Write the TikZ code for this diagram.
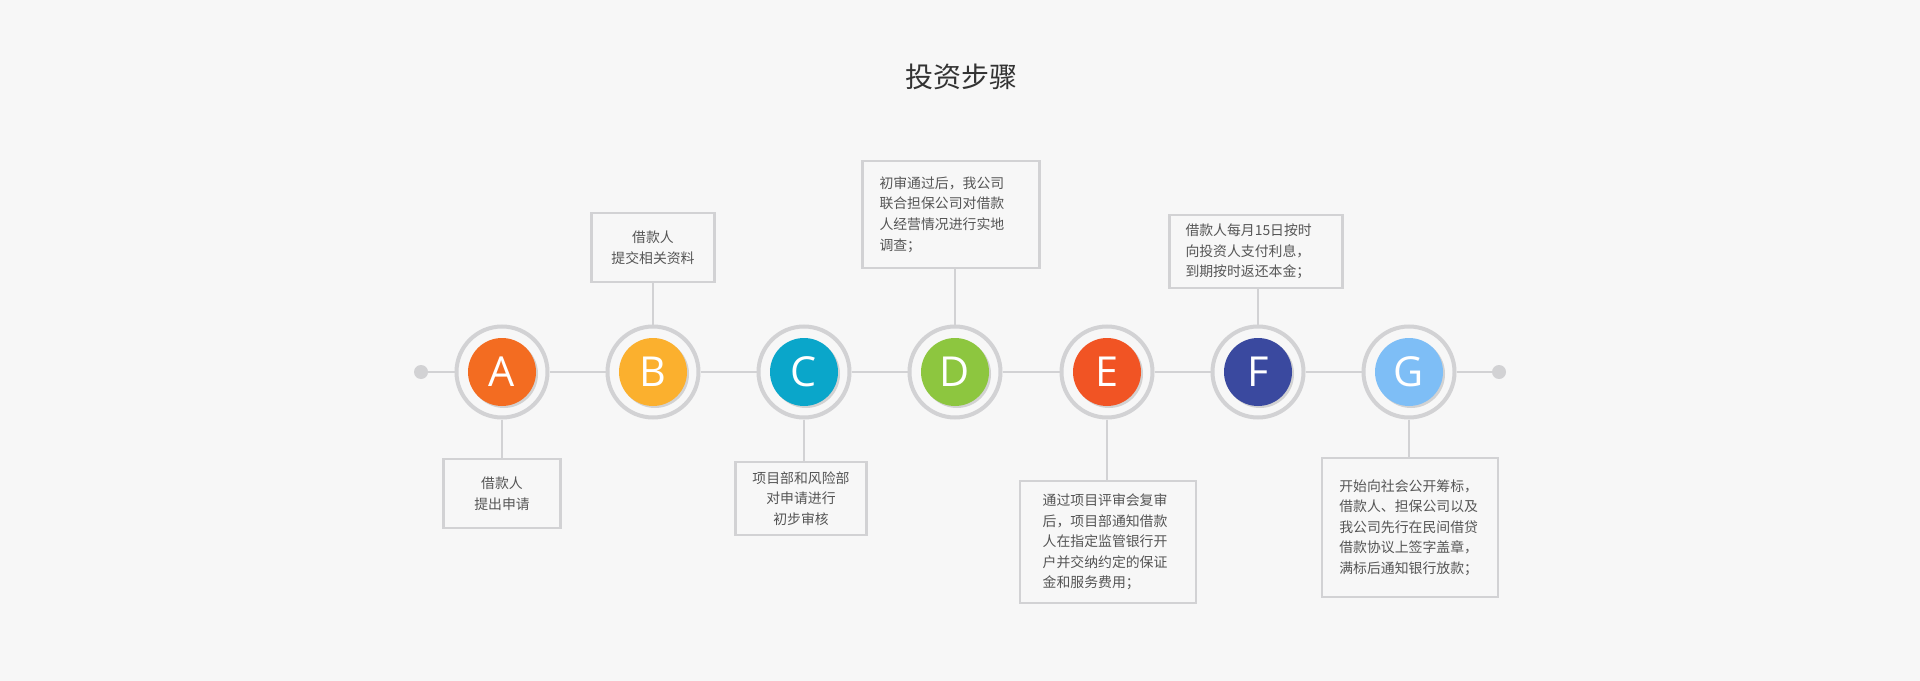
\documentclass[tikz,border=0pt]{standalone}
\usepackage{fontspec}
\setmainfont{Noto Sans CJK SC}
\newfontfamily\letterfont{Open Sans}
\usepackage{tikz}
\usetikzlibrary{positioning,shadows}
\usepackage{xcolor}

\definecolor{bg}{HTML}{F7F7F7}
\definecolor{linegray}{HTML}{D2D2D4}
\definecolor{textgray}{HTML}{555555}
\definecolor{titlegray}{HTML}{333333}
\definecolor{colA}{HTML}{F36C21}
\definecolor{colB}{HTML}{FBB02E}
\definecolor{colC}{HTML}{0AA6CA}
\definecolor{colD}{HTML}{8DC63F}
\definecolor{colE}{HTML}{F15424}
\definecolor{colF}{HTML}{3A499F}
\definecolor{colG}{HTML}{7EBEF6}

\tikzset{
  conn/.style={draw=linegray,line width=2.2pt},
  ring/.style={circle,draw=linegray,line width=3pt,fill=bg,minimum size=68.25pt,inner sep=0pt},
  ball/.style={circle,fill=#1,minimum size=51pt,inner sep=0pt,text=white,
    font=\letterfont\fontsize{31}{31}\selectfont,
    drop shadow={shadow xshift=1.5pt,shadow yshift=-1.5pt,opacity=.15,fill=black}},
  enddot/.style={circle,fill=linegray,minimum size=10.5pt,inner sep=0pt},
  infobox/.style={draw=linegray,line width=2pt,fill=bg,text=textgray,
    font=\fontsize{10.4}{15.4}\selectfont},
  midbox/.style={infobox,align=center,inner sep=0pt},
  leftbox/.style={infobox,align=left,inner ysep=0pt},
}

\begin{document}
\begin{tikzpicture}[x=0.75pt,y=-0.75pt]
\useasboundingbox[fill=bg] (0,0) rectangle (1920,681);

\node[text=titlegray,font=\fontsize{21}{21}\selectfont] (title) at (961,77) {投资步骤};

% the time line
\node[enddot] (dL) at (421,372) {};
\node[enddot] (dR) at (1499,372) {};
\node[ring] (rA) at (502,372) {};
\node[ring] (rB) at (653,372) {};
\node[ring] (rC) at (804,372) {};
\node[ring] (rD) at (955,372) {};
\node[ring] (rE) at (1107,372) {};
\node[ring] (rF) at (1258,372) {};
\node[ring] (rG) at (1409,372) {};
\draw[conn] (dL) -- (rA);
\draw[conn] (rA) -- (rB);
\draw[conn] (rB) -- (rC);
\draw[conn] (rC) -- (rD);
\draw[conn] (rD) -- (rE);
\draw[conn] (rE) -- (rF);
\draw[conn] (rF) -- (rG);
\draw[conn] (rG) -- (dR);

\node[ball=colA] (cA) at (rA) {A};
\node[ball=colB] (cB) at (rB) {B};
\node[ball=colC] (cC) at (rC) {C};
\node[ball=colD] (cD) at (rD) {D};
\node[ball=colE] (cE) at (rE) {E};
\node[ball=colF] (cF) at (rF) {F};
\node[ball=colG] (cG) at (rG) {G};

% step boxes
\node[midbox,minimum width=87.75pt,minimum height=51.75pt] (bA) at (502,493.5)
  {借款人\\提出申请};
\node[midbox,minimum width=92.25pt,minimum height=51.75pt] (bB) at (653,247.5)
  {借款人\\提交相关资料};
\node[midbox,minimum width=98.25pt,minimum height=54.75pt] (bC) at (801,498.5)
  {项目部和风险部\\对申请进行\\初步审核};
\node[leftbox,text width=107.25pt,inner xsep=12.75pt,minimum height=80.25pt] (bD) at (951,214.5)
  {初审通过后，我公司\\联合担保公司对借款\\人经营情况进行实地\\调查；};
\node[leftbox,text width=98pt,inner xsep=17pt,minimum height=91.5pt] (bE) at (1108,542)
  {通过项目评审会复审\\后，项目部通知借款\\人在指定监管银行开\\户并交纳约定的保证\\金和服务费用；};
\node[leftbox,text width=105.75pt,inner xsep=12pt,minimum height=54.75pt] (bF) at (1256,251.5)
  {借款人每月15日按时\\向投资人支付利息，\\到期按时返还本金；};
\node[leftbox,text width=106pt,inner xsep=13pt,minimum height=104.25pt] (bG) at (1410,527.5)
  {开始向社会公开筹标，\\借款人、担保公司以及\\我公司先行在民间借贷\\借款协议上签字盖章，\\满标后通知银行放款；};

\draw[conn,line width=2pt] (rA) -- (rA |- bA.north);
\draw[conn,line width=2pt] (rB) -- (rB |- bB.south);
\draw[conn,line width=2pt] (rC) -- (rC |- bC.north);
\draw[conn,line width=2pt] (rD) -- (rD |- bD.south);
\draw[conn,line width=2pt] (rE) -- (rE |- bE.north);
\draw[conn,line width=2pt] (rF) -- (rF |- bF.south);
\draw[conn,line width=2pt] (rG) -- (rG |- bG.north);
\end{tikzpicture}
\end{document}
